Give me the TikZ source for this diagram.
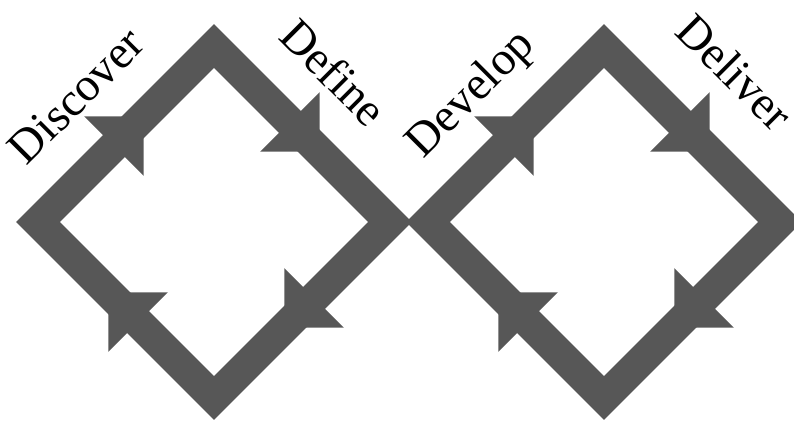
\documentclass[tikz,border=0pt]{standalone}
\usepackage{fontspec}
\setmainfont{Liberation Serif}
\usepackage{xcolor}
\usetikzlibrary{arrows.meta,decorations.markings}
\definecolor{ringgray}{RGB}{87,87,87}

\begin{document}
\begin{tikzpicture}[
    ring/.style={draw=ringgray, line width=0.775cm, line join=miter, postaction={decorate},
      decoration={markings, mark=between positions 0.15 and 0.95 step 0.25 with {\arrow{Triangle[length=1.05cm,width=2.1cm,line width=0pt]}}}},
    phase/.style={font=\fontsize{33.5}{40}\selectfont, inner sep=0pt}
]
\useasboundingbox (0,0) rectangle (19.85,10.5);

% left diamond
\coordinate (al) at (0.95,4.95);
\coordinate (at) at (5.35,9.35);
\coordinate (ar) at (9.75,4.95);
\coordinate (ab) at (5.35,0.55);

% right diamond
\coordinate (bl) at (10.7,4.95);
\coordinate (bt) at (15.1,9.35);
\coordinate (br) at (19.5,4.95);
\coordinate (bb) at (15.1,0.55);

\path[ring] (al) -- (at) -- (ar) -- (ab) -- cycle;
\path[ring] (bl) -- (bt) -- (br) -- (bb) -- cycle;

\node[phase, rotate=45] (discover) at (1.9,8.1) {Discover};
\node[phase, rotate=-45] (define) at (8.35,8.7) {Define};
\node[phase, rotate=45] (develop) at (11.8,8.125) {Develop};
\node[phase, rotate=-45] (deliver) at (18.375,8.7) {Deliver};
\end{tikzpicture}
\end{document}
